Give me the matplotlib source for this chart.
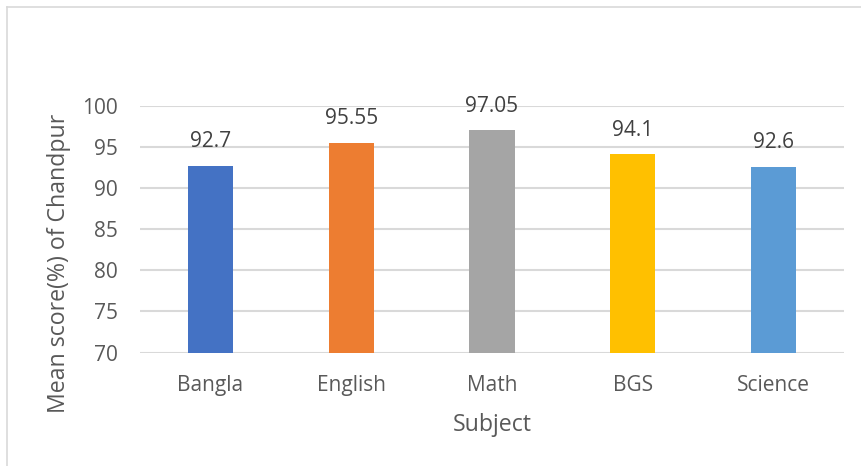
import matplotlib.pyplot as plt
from matplotlib.lines import Line2D

subjects = ['Bangla', 'English', 'Math', 'BGS', 'Science']
scores = [92.7, 95.55, 97.05, 94.1, 92.6]
colors = ['#4472C4', '#ED7D31', '#A5A5A5', '#FFC000', '#5B9BD5']
yticks = [70, 75, 80, 85, 90, 95, 100]

plt.rcParams['font.family'] = ['Open Sans', 'DejaVu Sans']

W, H = 861, 466
fig = plt.figure(figsize=(W / 100, H / 100), dpi=100)
ax = fig.add_axes([140 / W, 1 - 352.5 / H, 704 / W, 246.5 / H])

x = range(len(subjects))
ax.bar(x, scores, width=0.32, color=colors, zorder=3)
for xi, v in zip(x, scores):
    ax.text(xi, v + 2.25, f'{v:g}', ha='center', va='baseline', fontsize=15, color='#404040')

ax.set_xlim(-0.5, 4.5)
ax.set_ylim(70, 100)
ax.set_yticks(yticks)
ax.set_xticks(list(x))
ax.set_xticklabels(subjects)
ax.grid(axis='y', color='#d9d9d9', linewidth=1.5, zorder=0)
for s in ax.spines.values():
    s.set_visible(False)
ax.tick_params(length=0, labelsize=15, colors='#595959')
ax.tick_params(axis='y', pad=15.8)
ax.tick_params(axis='x', pad=16)

# axis titles
fig.text(492 / W, 1 - 431 / H, 'Subject', ha='center', va='baseline', fontsize=16.7, color='#595959')
fig.text(59 / W, 1 - 263 / H, 'Mean score(%) of Chandpur', ha='center', va='center',
         rotation=90, fontsize=16.7, color='#595959')

# chart border
fig.add_artist(Line2D([7 / W, 7 / W], [0, 1 - 7 / H], transform=fig.transFigure, color='#d9d9d9', lw=1.2))
fig.add_artist(Line2D([7 / W, 1], [1 - 7 / H, 1 - 7 / H], transform=fig.transFigure, color='#d9d9d9', lw=1.2))

fig.savefig('out.png', dpi=100)
